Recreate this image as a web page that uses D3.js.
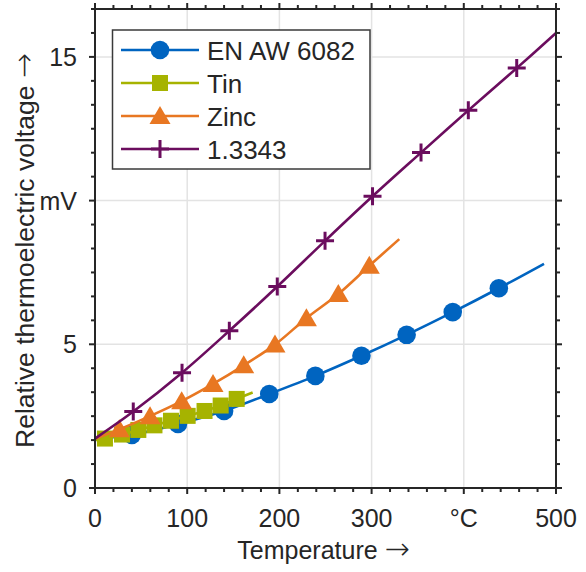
<!DOCTYPE html>
<html>
<head>
<meta charset="utf-8">
<script src="https://cdn.jsdelivr.net/npm/d3@7"></script>
<style>
    body{ margin: 0; background: white; }
    text{ font-family: "Liberation Sans", Arial, sans-serif; fill: #262626; }
    .arrow{ font-family: "DejaVu Sans", sans-serif; }
</style>
</head>
<body>
<div id="graph"></div>
<script>
//Each series: first and last entries are where the line starts/ends, the rest carry markers
const alX    = [0, 40, 90, 140, 189, 239, 289, 338, 388, 438, 487];
const alY    = [1.71, 1.85, 2.23, 2.68, 3.27, 3.90, 4.60, 5.33, 6.12, 6.95, 7.80];
const tinX   = [0, 10.8, 29.3, 47, 64.5, 82.4, 100.5, 118.8, 136.3, 153.7, 171];
const tinY   = [1.66, 1.72, 1.86, 2.02, 2.18, 2.34, 2.51, 2.68, 2.87, 3.10, 3.32];
const zincX  = [0, 26.4, 59.7, 94, 128, 161.3, 195.2, 229.3, 263.9, 297.5, 330];
const zincY  = [1.71, 2.04, 2.50, 3.02, 3.62, 4.27, 4.99, 5.91, 6.75, 7.73, 8.66];
const steelX = [0, 41.5, 94.4, 145.7, 197.7, 249.5, 301, 353.6, 404.9, 457.4, 500];
const steelY = [1.72, 2.66, 4.01, 5.47, 7.01, 8.60, 10.15, 11.67, 13.14, 14.61, 15.83];

const seriesNames = ["EN AW 6082", "Tin", "Zinc", "1.3343"];

//Tick values and the labels printed under them
const xTicks = [0, 100, 200, 300, 400, 500];
const xTickLabels = ["0", "100", "200", "300", "°C", "500"];
const yTicks = [0, 5, 10, 15];
const yTickLabels = ["0", "5", "mV", "15"];

const W = 586, H = 572;
const plot = {left: 95, right: 556, top: 9, bottom: 488};

const svg = d3.select('#graph')
              .append('svg')
              .attr('width', W)
              .attr('height', H);

const x = d3.scaleLinear().domain([0, 500]).range([plot.left, plot.right]);
const y = d3.scaleLinear().domain([0, 50/3]).range([plot.bottom, plot.top]);

//grid lines at the major ticks
const grid = svg.append('g');
grid.selectAll('.gx').data(xTicks.slice(1, -1)).enter()
    .append('line')
    .attr('x1', d => x(d)).attr('x2', d => x(d))
    .attr('y1', plot.top).attr('y2', plot.bottom)
    .attr('stroke', '#e3e3e3').attr('stroke-width', 1.5);
grid.selectAll('.gy').data(yTicks.slice(1)).enter()
    .append('line')
    .attr('y1', d => y(d)).attr('y2', d => y(d))
    .attr('x1', plot.left).attr('x2', plot.right)
    .attr('stroke', '#e3e3e3').attr('stroke-width', 1.5);

const series = [
    {name: seriesNames[0], xs: alX, ys: alY, color: '#0064c0', marker: 'circle'},
    {name: seriesNames[1], xs: tinX, ys: tinY, color: '#a6b300', marker: 'square'},
    {name: seriesNames[2], xs: zincX, ys: zincY, color: '#e87722', marker: 'triangle'},
    {name: seriesNames[3], xs: steelX, ys: steelY, color: '#6b0d5e', marker: 'plus'}
];

function drawMarker(g, type, color, cx, cy){
    if(type == 'circle'){
        g.append('circle').attr('cx', cx).attr('cy', cy).attr('r', 9.3).attr('fill', color);
    }
    else if(type == 'square'){
        g.append('rect').attr('x', cx - 8).attr('y', cy - 8)
         .attr('width', 16).attr('height', 16).attr('fill', color);
    }
    else if(type == 'triangle'){
        g.append('path')
         .attr('d', `M${cx},${cy - 10}L${cx + 10.5},${cy + 8}L${cx - 10.5},${cy + 8}Z`)
         .attr('fill', color);
    }
    else{
        g.append('path')
         .attr('d', `M${cx - 9},${cy}H${cx + 9}M${cx},${cy - 9}V${cy + 9}`)
         .attr('stroke', color).attr('stroke-width', 3).attr('fill', 'none');
    }
}

const line = d3.line()
               .x(d => x(d[0]))
               .y(d => y(d[1]))
               .curve(d3.curveCatmullRom.alpha(0.5));

const marks = svg.append('g');
series.forEach(s => {
    const pts = s.xs.map((v, i) => [v, s.ys[i]]);
    const g = marks.append('g');
    g.append('path')
     .attr('d', line(pts))
     .attr('fill', 'none')
     .attr('stroke', s.color)
     .attr('stroke-width', 2.6);
    //markers sit on every point but the two line ends
    pts.slice(1, -1).forEach(p => drawMarker(g, s.marker, s.color, x(p[0]), y(p[1])));
});

//axes box, ticks pointing outwards on all four sides
const axisColor = '#262626';
const xMinor = d3.range(0, 501, 20);
const yMinor = d3.range(0, 21, 1).map(i => i * 5 / 6).filter(v => v <= 50/3 + 1e-6);

const axes = svg.append('g').attr('stroke', axisColor);
axes.append('rect')
    .attr('x', plot.left).attr('y', plot.top)
    .attr('width', plot.right - plot.left).attr('height', plot.bottom - plot.top)
    .attr('fill', 'none').attr('stroke-width', 2);

xMinor.forEach(v => {
    const len = (v % 100 == 0) ? 6 : 4;
    axes.append('line').attr('x1', x(v)).attr('x2', x(v))
        .attr('y1', plot.bottom).attr('y2', plot.bottom + len).attr('stroke-width', 2);
    axes.append('line').attr('x1', x(v)).attr('x2', x(v))
        .attr('y1', plot.top).attr('y2', plot.top - len).attr('stroke-width', 2);
});
yMinor.forEach((v, i) => {
    const len = (i % 6 == 0) ? 6 : 4;
    axes.append('line').attr('y1', y(v)).attr('y2', y(v))
        .attr('x1', plot.left).attr('x2', plot.left - len).attr('stroke-width', 2);
    axes.append('line').attr('y1', y(v)).attr('y2', y(v))
        .attr('x1', plot.right).attr('x2', plot.right + len).attr('stroke-width', 2);
});

//tick labels
svg.append('g').selectAll('text').data(xTicks).enter()
   .append('text')
   .attr('x', d => x(d))
   .attr('y', plot.bottom + 39)
   .attr('text-anchor', 'middle')
   .attr('font-size', 25)
   .text((d, i) => xTickLabels[i]);

svg.append('g').selectAll('text').data(yTicks).enter()
   .append('text')
   .attr('x', plot.left - 18)
   .attr('y', d => y(d) + 9)
   .attr('text-anchor', 'end')
   .attr('font-size', 25)
   .text((d, i) => yTickLabels[i]);

//axis titles, arrows set in DejaVu so they come out long like the original
const xTitle = svg.append('text')
   .attr('x', (plot.left + plot.right) / 2 - 2)
   .attr('y', 559)
   .attr('text-anchor', 'middle')
   .attr('font-size', 25);
xTitle.append('tspan').text('Temperature ');
xTitle.append('tspan').attr('class', 'arrow').attr('font-size', 30).attr('font-weight', 200).text('→');

const yTitle = svg.append('text')
   .attr('transform', `translate(34,${(plot.top + plot.bottom) / 2 + 2}) rotate(-90)`)
   .attr('text-anchor', 'middle')
   .attr('font-size', 26.5);
yTitle.append('tspan').text('Relative thermoelectric voltage ');
yTitle.append('tspan').attr('class', 'arrow').attr('font-size', 30).attr('font-weight', 200).text('→');

//legend
const legend = svg.append('g');
legend.append('rect')
      .attr('x', 112.5).attr('y', 30)
      .attr('width', 257.5).attr('height', 139)
      .attr('fill', 'white')
      .attr('stroke', '#3a3a3a')
      .attr('stroke-width', 1.5);

series.forEach((s, i) => {
    const ly = 50 + i * 33;
    legend.append('line')
          .attr('x1', 121).attr('x2', 199)
          .attr('y1', ly).attr('y2', ly)
          .attr('stroke', s.color).attr('stroke-width', 2.6);
    drawMarker(legend, s.marker, s.color, 160, ly);
    legend.append('text')
          .attr('x', 207)
          .attr('y', ly + 9.5)
          .attr('font-size', 26)
          .text(s.name);
});
</script>
</body>
</html>
